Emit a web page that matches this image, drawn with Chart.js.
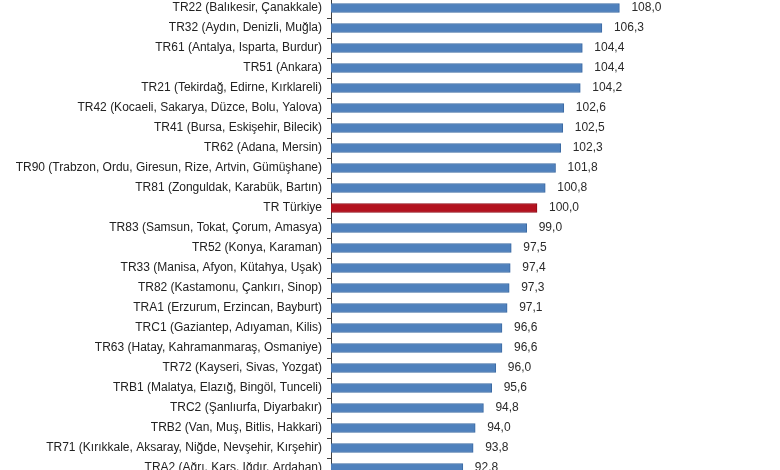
<!DOCTYPE html>
<html>
<head>
<meta charset="utf-8">
<script src="https://cdn.jsdelivr.net/npm/chart.js@4"></script>
<style>
  html, body { margin: 0; padding: 0; background: #fff; }
  body { width: 780px; height: 470px; overflow: hidden; position: relative; }
  #wrap { position: absolute; left: 0; top: -2px; width: 780px; height: 480px; }
</style>
</head>
<body>
<div id="wrap"><canvas id="chart"></canvas></div>
<script>
const regions = [
  "TR22 (Balıkesir, Çanakkale)",
  "TR32 (Aydın, Denizli, Muğla)",
  "TR61 (Antalya, Isparta, Burdur)",
  "TR51 (Ankara)",
  "TR21 (Tekirdağ, Edirne, Kırklareli)",
  "TR42 (Kocaeli, Sakarya, Düzce, Bolu, Yalova)",
  "TR41 (Bursa, Eskişehir, Bilecik)",
  "TR62 (Adana, Mersin)",
  "TR90 (Trabzon, Ordu, Giresun, Rize, Artvin, Gümüşhane)",
  "TR81 (Zonguldak, Karabük, Bartın)",
  "TR Türkiye",
  "TR83 (Samsun, Tokat, Çorum, Amasya)",
  "TR52 (Konya, Karaman)",
  "TR33 (Manisa, Afyon, Kütahya, Uşak)",
  "TR82 (Kastamonu, Çankırı, Sinop)",
  "TRA1 (Erzurum, Erzincan, Bayburt)",
  "TRC1 (Gaziantep, Adıyaman, Kilis)",
  "TR63 (Hatay, Kahramanmaraş, Osmaniye)",
  "TR72 (Kayseri, Sivas, Yozgat)",
  "TRB1 (Malatya, Elazığ, Bingöl, Tunceli)",
  "TRC2 (Şanlıurfa, Diyarbakır)",
  "TRB2 (Van, Muş, Bitlis, Hakkari)",
  "TR71 (Kırıkkale, Aksaray, Niğde, Nevşehir, Kırşehir)",
  "TRA2 (Ağrı, Kars, Iğdır, Ardahan)"
];
const values = [108.0, 106.3, 104.4, 104.4, 104.2, 102.6, 102.5, 102.3, 101.8, 100.8,
  100.0, 99.0, 97.5, 97.4, 97.3, 97.1, 96.6, 96.6, 96.0, 95.6, 94.8, 94.0, 93.8, 92.8];
const axisMin = 80;
const axisMax = 110;

const fmt = v => v.toFixed(1).replace(".", ",");

const valueLabels = {
  id: "valueLabels",
  afterDatasetsDraw(chart) {
    const ctx = chart.ctx;
    const meta = chart.getDatasetMeta(0);
    ctx.save();
    ctx.font = "12px 'Liberation Sans', Arial, sans-serif";
    ctx.fillStyle = "#2a2a2a";
    ctx.textAlign = "left";
    ctx.textBaseline = "middle";
    meta.data.forEach((bar, i) => {
      ctx.fillText(fmt(values[i]), bar.x + 12, bar.y);
    });
    ctx.restore();
  }
};

new Chart(document.getElementById("chart"), {
  type: "bar",
  data: {
    labels: regions,
    datasets: [{
      data: values,
      backgroundColor: regions.map(r => r === "TR Türkiye" ? "#b3121f" : "#4f81bd"),
      borderColor: regions.map(r => r === "TR Türkiye" ? "#8e0c17" : "#3c6aa3"),
      borderWidth: 1,
      borderSkipped: false,
      barThickness: 9
    }]
  },
  options: {
    indexAxis: "y",
    responsive: true,
    maintainAspectRatio: false,
    animation: false,
    layout: { padding: 0 },
    plugins: {
      legend: { display: false },
      tooltip: { enabled: false }
    },
    scales: {
      x: {
        display: false,
        min: axisMin,
        max: axisMax,
        afterFit: scale => { scale.paddingLeft = 0; scale.paddingRight = 0; }
      },
      y: {
        afterFit: scale => {
          scale.width = 331;
          scale.paddingTop = 0;
          scale.paddingBottom = 0;
        },
        grid: {
          drawOnChartArea: false,
          drawTicks: true,
          tickLength: 4,
          tickColor: "#404040",
          offset: true
        },
        border: { display: true, color: "#404040", width: 1 },
        ticks: {
          color: "#222",
          padding: 5,
          autoSkip: false,
          font: { family: "'Liberation Sans', Arial, sans-serif", size: 12 }
        }
      }
    }
  },
  plugins: [valueLabels, {
    id: "rightSpace",
    beforeLayout(chart) { chart.options.layout.padding = { left: 0, top: 0, bottom: 0, right: 140 }; }
  }]
});
</script>
</body>
</html>
